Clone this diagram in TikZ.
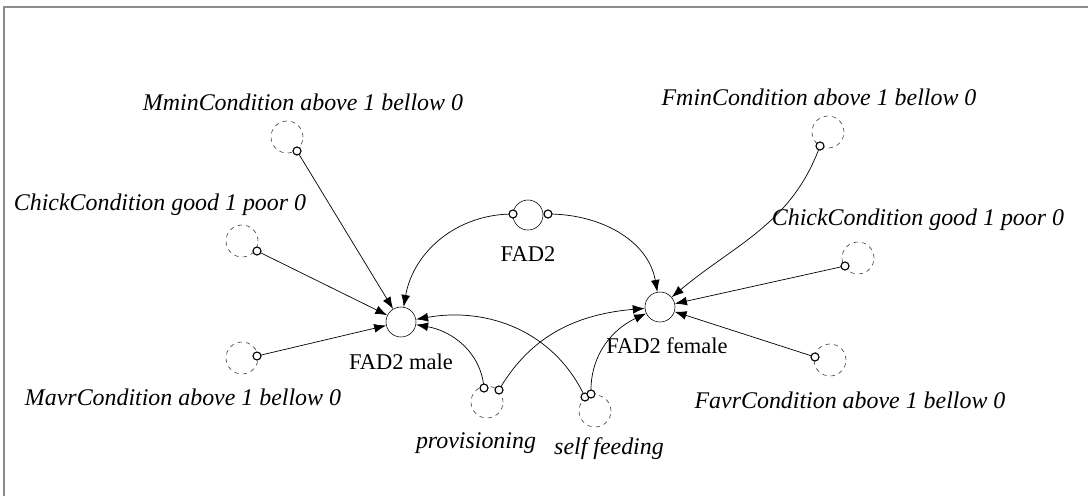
\documentclass[tikz,border=0pt]{standalone}
\usepackage{fontspec}
\setmainfont{Liberation Serif}
\usetikzlibrary{arrows.meta, positioning}

\begin{document}
\begin{tikzpicture}[
    x=0.025cm, y=-0.025cm,
    aux/.style={circle, draw=black, fill=white, minimum size=0.75cm, inner sep=0pt},
    cloud/.style={circle, draw=black!80, dashed, minimum size=0.8cm, inner sep=0pt},
    port/.style={circle, draw=black, fill=white, minimum size=0.2cm, inner sep=0pt, line width=0.8pt},
    link/.style={-{Latex[length=3mm, width=2.2mm]}, line width=0.5pt},
    cond/.style={font=\fontsize{17}{19}\selectfont\itshape},
    var/.style={font=\fontsize{16}{18}\selectfont}
]

% frame and page
\useasboundingbox (0,0) rectangle (1088,496);
\draw[black!45, line width=1.2pt] (4,496) -- (4,7) -- (1088,7);

% variables
\node[aux] (male) at (401,322) {};
\node[aux] (female) at (660,307) {};
\node[aux] (fad) at (528,215) {};
\node[var] at (401,362) {FAD2 male};
\node[var] at (667,346) {FAD2 female};
\node[var] at (528,254) {FAD2};

% inputs (dashed)
\node[cloud] (mmin) at (287,137) {};
\node[cloud] (chickl) at (242,241) {};
\node[cloud] (mavr) at (242,358) {};
\node[cloud] (fmin) at (828,132) {};
\node[cloud] (chickr) at (858,258) {};
\node[cloud] (favr) at (830,360) {};
\node[cloud] (prov) at (487,402) {};
\node[cloud] (self) at (595,411) {};

\node[cond] at (303,102) {MminCondition above 1 bellow 0};
\node[cond] at (160,205) {ChickCondition good 1 poor 0};
\node[cond] at (183,397) {MavrCondition above 1 bellow 0};
\node[cond] at (819,97) {FminCondition above 1 bellow 0};
\node[cond] at (918,220) {ChickCondition good 1 poor 0};
\node[cond] at (850,400) {FavrCondition above 1 bellow 0};
\node[cond] at (476,443) {provisioning};
\node[cond] at (609,449) {self feeding};

% connectors
\draw[link] (297,151) -- (male);
\draw[link] (257,251) -- (male);
\draw[link] (257,356) -- (male);
\draw[link] (513,214) to[out=180, in=80] (male.80);
\draw[link] (548,214) to[out=0, in=100] (female.100);
\draw[link] (820,146) to[out=-110, in=40] (female.40);
\draw[link] (845,266) -- (female);
\draw[link] (815,357) -- (female);
\draw[link] (484,388) to[out=95, in=-10] (male.-10);
\draw[link] (585,397) to[out=115, in=10] (male.10);
\draw[link] (499,390) to[out=60, in=185] (female.185);
\draw[link] (591,394) to[out=92, in=205] (female.205);

% ports
\foreach \px/\py in {297/151, 257/251, 257/356, 820/146, 845/266, 815/357,
                     513/214, 548/214, 484/388, 499/390, 585/397, 591/394}
    \node[port] at (\px,\py) {};

\end{tikzpicture}
\end{document}
